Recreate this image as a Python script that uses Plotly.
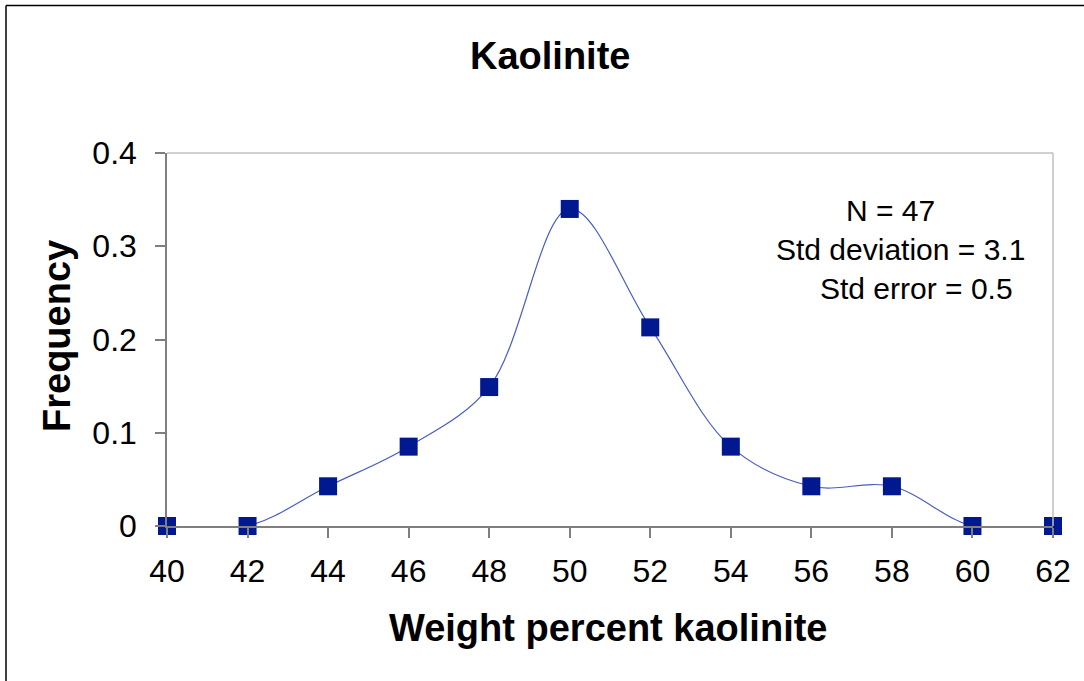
import plotly.graph_objects as go

weight_pct = [40, 42, 44, 46, 48, 50, 52, 54, 56, 58, 60, 62]
frequency = [0, 0, 0.0426, 0.0851, 0.149, 0.340, 0.213, 0.0851, 0.0426, 0.0426, 0, 0]
x_ticks = [40, 42, 44, 46, 48, 50, 52, 54, 56, 58, 60, 62]
y_ticks = [0, 0.1, 0.2, 0.3, 0.4]
y_tick_labels = ["0", "0.1", "0.2", "0.3", "0.4"]
stats_lines = ["N = 47", "Std deviation = 3.1", "Std error = 0.5"]

W, H = 1084, 681
L, R, T, B = 167, 1053, 153, 526   # plot area in pixels

def px_x(p):
    return (p - L) / (R - L)

def px_y(p):
    return (B - p) / (B - T)

FONT = "Liberation Sans, Arial, sans-serif"

fig = go.Figure()
fig.add_trace(go.Scatter(
    x=weight_pct, y=frequency,
    mode="lines+markers",
    line=dict(shape="spline", smoothing=1.0, color="#4a5cc4", width=1.2),
    marker=dict(symbol="square", size=18, color="#001890"),
    cliponaxis=False,
    showlegend=False,
))

fig.update_layout(
    width=W, height=H,
    margin=dict(l=L, r=W - R, t=T, b=H - B),
    paper_bgcolor="white",
    plot_bgcolor="white",
    font=dict(family=FONT, color="black"),
    xaxis=dict(
        range=[40, 62], tickvals=x_ticks, ticktext=[str(v) for v in x_ticks],
        showgrid=False, zeroline=False,
        showline=True, linecolor="#7f7f7f", linewidth=1.5,
        ticks="outside", ticklen=10, tickcolor="#7f7f7f", tickwidth=1.5,
        tickfont=dict(size=32, family=FONT, color="black"),
        ticklabelstandoff=6,
    ),
    yaxis=dict(
        range=[0, 0.4], tickvals=y_ticks, ticktext=y_tick_labels,
        showgrid=False, zeroline=False,
        showline=True, linecolor="#7f7f7f", linewidth=1.5,
        ticks="outside", ticklen=10, tickcolor="#7f7f7f", tickwidth=1.5,
        tickfont=dict(size=32, family=FONT, color="black"),
        ticklabelstandoff=12,
    ),
    shapes=[
        # top and right plot-area border (light grey)
        dict(type="line", xref="paper", yref="paper", x0=0, x1=1, y0=1, y1=1,
             line=dict(color="#c0c0c0", width=1.5)),
        dict(type="line", xref="paper", yref="paper", x0=1, x1=1, y0=0, y1=1,
             line=dict(color="#c0c0c0", width=1.5)),
        # outer chart frame
        dict(type="line", xref="paper", yref="paper",
             x0=px_x(6), x1=px_x(1100), y0=px_y(5.5), y1=px_y(5.5),
             line=dict(color="black", width=1.5)),
        dict(type="line", xref="paper", yref="paper",
             x0=px_x(6), x1=px_x(6), y0=px_y(5.5), y1=px_y(700),
             line=dict(color="black", width=1.5)),
    ],
)

annotations = [
    dict(text="<b>Kaolinite</b>", x=px_x(550), y=px_y(56), font=dict(size=38)),
    dict(text="<b>Weight percent kaolinite</b>", x=px_x(608), y=px_y(628), font=dict(size=38)),
    dict(text="<b>Frequency</b>", x=px_x(57), y=px_y(336), font=dict(size=38), textangle=-90),
]
stats_x = [890, 900, 916]
stats_y = [210, 249, 288]
for txt, sx, sy in zip(stats_lines, stats_x, stats_y):
    annotations.append(dict(text=txt, x=px_x(sx), y=px_y(sy), font=dict(size=30)))

for a in annotations:
    a.update(xref="paper", yref="paper", showarrow=False,
             xanchor="center", yanchor="middle")
    a["font"].update(family=FONT, color="black")
fig.update_layout(annotations=annotations)

fig.write_html("out.html", config={"displayModeBar": False},
               post_script="document.body.style.margin='0';")
